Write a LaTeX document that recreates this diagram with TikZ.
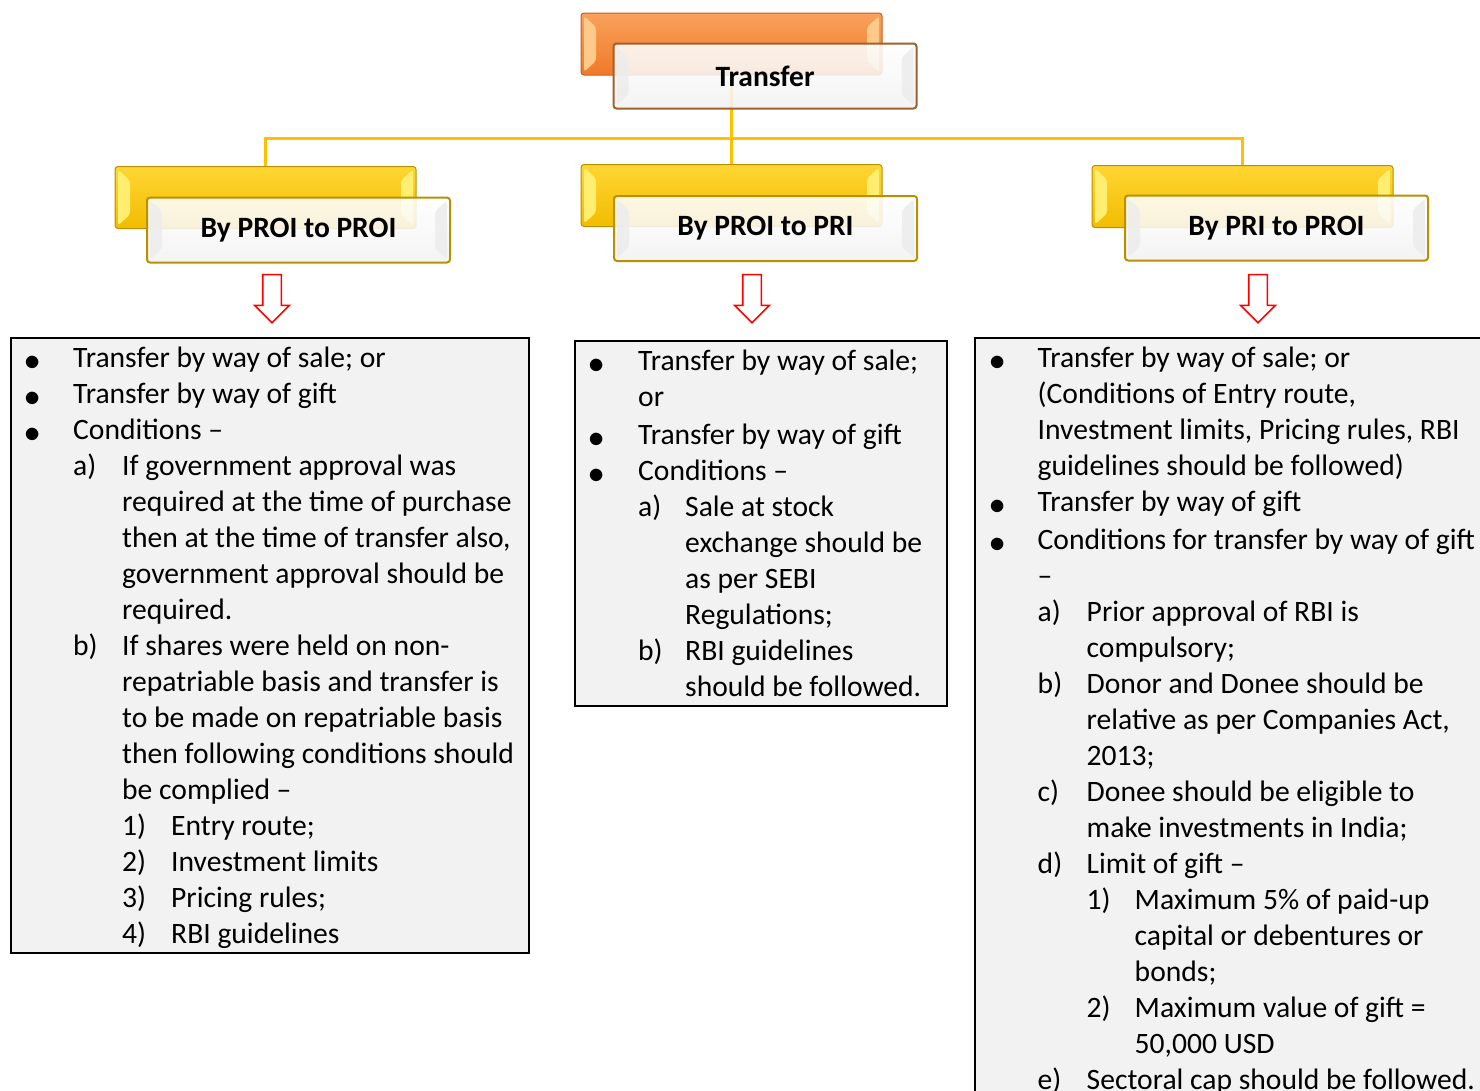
\documentclass[tikz,border=0pt]{standalone}
\usepackage{fontspec}
\setmainfont{Carlito}
\usepackage{array}
\usetikzlibrary{shapes.arrows}

\definecolor{linkyellow}{HTML}{FFC000}
\definecolor{orangetop}{HTML}{F9A15C}
\definecolor{orangebot}{HTML}{F07A28}
\definecolor{orangeline}{HTML}{C4601F}
\definecolor{orangelight}{HTML}{FFC98A}
\definecolor{goldtop}{HTML}{FFD633}
\definecolor{goldbot}{HTML}{F2BC00}
\definecolor{goldline}{HTML}{B89000}
\definecolor{goldlight}{HTML}{FFEE70}
\definecolor{frontline}{HTML}{A0602A}
\definecolor{listgray}{HTML}{F2F2F2}

\newcommand{\bul}{\raisebox{-3pt}{\scalebox{1.3}{$\bullet$}}}
\newcommand{\restcol}[2]{\multicolumn{#1}{@{}l@{}}{#2}}

\tikzset{
	endbevel/.style={
			path picture={
					\fill[#1] ([shift={(3pt,-3pt)}]path picture bounding box.north west) -- ([shift={(15pt,-14pt)}]path picture bounding box.north west)
					-- ([shift={(15pt,14pt)}]path picture bounding box.south west) -- ([shift={(3pt,3pt)}]path picture bounding box.south west) -- cycle;
					\fill[#1] ([shift={(-3pt,-3pt)}]path picture bounding box.north east) -- ([shift={(-15pt,-14pt)}]path picture bounding box.north east)
					-- ([shift={(-15pt,14pt)}]path picture bounding box.south east) -- ([shift={(-3pt,3pt)}]path picture bounding box.south east) -- cycle;
				}
		},
	backbox/.style={rounded corners=3pt, line width=1pt, minimum width=301pt, minimum height=62pt, inner sep=0pt},
	orangebox/.style={backbox, draw=orangeline, top color=orangetop, bottom color=orangebot, endbevel=orangelight},
	goldbox/.style={backbox, draw=goldline, top color=goldtop, bottom color=goldbot, endbevel=goldlight},
	frontbox/.style={rounded corners=3pt, line width=2pt, top color=white, bottom color=gray!10, fill opacity=0.88, text opacity=1,
			minimum width=303pt, minimum height=65pt, inner sep=0pt, endbevel=gray!14, font=\bfseries\fontsize{29.5}{36}\selectfont},
	listbox/.style={draw=black, line width=1.8pt, fill=listgray, anchor=north west, inner sep=0pt},
	listtext/.style={anchor=north west, inner sep=0pt, font=\fontsize{29.6}{36}\selectfont},
	downarrow/.style={single arrow, draw=red, line width=1.6pt, fill=white, rotate=-90, minimum height=48pt,
			inner xsep=0pt, inner ysep=8.5pt, single arrow head extend=8pt},
	link/.style={draw=linkyellow, line width=3pt}
}

\begin{document}
\begin{tikzpicture}[x=1pt, y=-1pt]
	\clip (0,0) rectangle (1480,1090);

	% back boxes
	\node [orangebox] (transferback) at (731.5, 44) {};
	\node [goldbox] (proiproiback) at (265.5, 197.5) {};
	\node [goldbox] (proipriback) at (731.5, 195.5) {};
	\node [goldbox] (priproiback) at (1242.5, 196.5) {};

	% yellow connectors
	\coordinate (bus) at (731.5, 138);
	\draw [link] (transferback.south) -- (bus) -| (proiproiback.north);
	\draw [link] (bus) -- (proipriback.north);
	\draw [link] (bus) -| (priproiback.north);

	% front boxes
	\node [frontbox, draw=frontline] (transfer) at (765, 76) {Transfer};
	\node [frontbox, draw=goldline] (proiproi) at (298.5, 230) {\raisebox{-2pt}{By PROI to PROI}};
	\node [frontbox, draw=goldline] (proipri) at (765.5, 228.5) {\raisebox{-2pt}{By PROI to PRI}};
	\node [frontbox, draw=goldline] (priproi) at (1276.5, 228) {\raisebox{-2pt}{By PRI to PROI}};

	% red arrows
	\node [downarrow] (arrowleft) at (272, 294) {};
	\node [downarrow] (arrowmid) at (752, 294) {};
	\node [downarrow] (arrowright) at (1258, 294) {};

	% list boxes
	\node [listbox, minimum width=518pt, minimum height=615pt] (proiproilist) at (10, 337) {};
	\node [listbox, minimum width=372pt, minimum height=365pt] (proiprilist) at (574, 340) {};
	\node [listbox, minimum width=530pt, minimum height=780pt] (priproilist) at (974, 337) {};

	\node [listtext] (proiproitext) at (24.5, 341.8) {%
		\begin{tabular}{@{}p{48.5pt}@{}p{49pt}@{}p{49pt}@{}l@{}}
			\bul & \restcol{3}{Transfer by way of sale; or}\\
			\bul & \restcol{3}{Transfer by way of gift}\\
			\bul & \restcol{3}{Conditions –}\\
			& a) & \restcol{2}{If government approval was}\\
			& & \restcol{2}{required at the time of purchase}\\
			& & \restcol{2}{then at the time of transfer also,}\\
			& & \restcol{2}{government approval should be}\\
			& & \restcol{2}{required.}\\
			& b) & \restcol{2}{If shares were held on non-}\\
			& & \restcol{2}{repatriable basis and transfer is}\\
			& & \restcol{2}{to be made on repatriable basis}\\
			& & \restcol{2}{then following conditions should}\\
			& & \restcol{2}{be complied –}\\
			& & 1) & Entry route;\\
			& & 2) & Investment limits\\
			& & 3) & Pricing rules;\\
			& & 4) & RBI guidelines
		\end{tabular}};

	\node [listtext] (proipritext) at (588.5, 344.8) {%
		\begin{tabular}{@{}p{49.5pt}@{}p{47pt}@{}l@{}}
			\bul & \restcol{2}{Transfer by way of sale;}\\
			& \restcol{2}{or}\\[2pt]
			\bul & \restcol{2}{Transfer by way of gift}\\
			\bul & \restcol{2}{Conditions –}\\
			& a) & Sale at stock\\
			& & exchange should be\\
			& & as per SEBI\\
			& & Regulations;\\
			& b) & RBI guidelines\\
			& & should be followed.
		\end{tabular}};

	\node [listtext] (priproitext) at (989.5, 341.8) {%
		\begin{tabular}{@{}p{48pt}@{}p{49pt}@{}p{48pt}@{}l@{}}
			\bul & \restcol{3}{Transfer by way of sale; or}\\
			& \restcol{3}{(Conditions of Entry route,}\\
			& \restcol{3}{Investment limits, Pricing rules, RBI}\\
			& \restcol{3}{guidelines should be followed)}\\
			\bul & \restcol{3}{Transfer by way of gift}\\[2pt]
			\bul & \restcol{3}{Conditions for transfer by way of gift}\\
			& \restcol{3}{–}\\
			& a) & \restcol{2}{Prior approval of RBI is}\\
			& & \restcol{2}{compulsory;}\\
			& b) & \restcol{2}{Donor and Donee should be}\\
			& & \restcol{2}{relative as per Companies Act,}\\
			& & \restcol{2}{2013;}\\
			& c) & \restcol{2}{Donee should be eligible to}\\
			& & \restcol{2}{make investments in India;}\\
			& d) & \restcol{2}{Limit of gift –}\\
			& & 1) & Maximum 5\% of paid-up\\
			& & & capital or debentures or\\
			& & & bonds;\\
			& & 2) & Maximum value of gift =\\
			& & & 50,000 USD\\
			& e) & \restcol{2}{Sectoral cap should be followed.}
		\end{tabular}};
\end{tikzpicture}
\end{document}
